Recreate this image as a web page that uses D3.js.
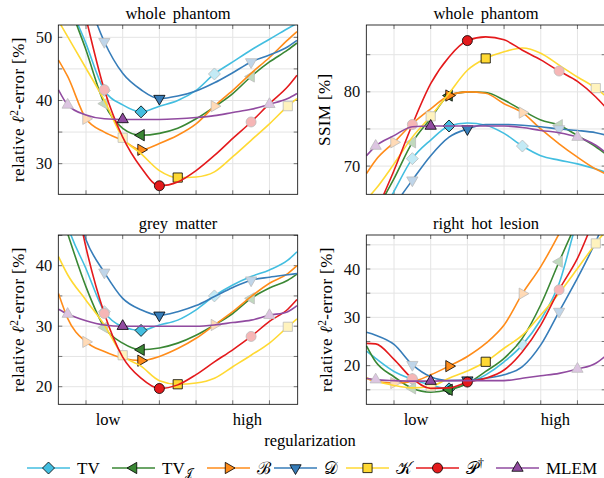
<!DOCTYPE html>
<html><head><meta charset="utf-8">
<script src="https://cdn.jsdelivr.net/npm/d3@7"></script>
<style>
body{margin:0;background:#fff}
svg{display:block}
svg text{font-family:"Liberation Serif","Times New Roman",serif}
</style></head><body>
<svg id="chart" width="604" height="478"></svg>
<script>
// sample positions along the regularization axis (half steps)
const uVals = [0.25, 0.5, 1, 1.5, 2, 2.5, 3, 3.5, 4, 4.5, 5, 5.5, 6, 6.5, 6.75];
const gridU = [1, 2, 3, 4, 5, 6];
const xLabels = ["low", "high"];
const xLabelU = [1.6, 5.4];

const seriesNames = ["TV", "TVJ", "B", "D", "K", "P", "MLEM"];
const seriesColors = ["#43bee0", "#3a8734", "#ff8c1a", "#377db9", "#ffd933", "#e41a1c", "#914ba0"];
const seriesShapes = ["diamond", "left", "right", "down", "square", "circle", "up"];
const markerU = [[1.5, 2.5, 4.5], [1.5, 2.5, 5.5], [1, 2.5, 4.5], [1.5, 3, 5.5], [2, 3.5, 6.5], [1.5, 3, 5.5], [0.5, 2, 6]];
const bestU = [2.5, 2.5, 2.5, 3, 3.5, 3, 2];

// whole phantom, relative l2-error
const wholeErr = [
    [62, 56.5, 49, 41.6, 39.3, 38.2, 39.1, 40.0, 41.6, 44.2, 46.1, 48.0, 49.7, 51.4, 52.2],
    [62, 56.3, 48, 39.5, 35.6, 34.5, 34.8, 35.6, 37.1, 39.0, 41.1, 43.8, 46.1, 48.0, 49.1],
    [46.4, 43.8, 37.1, 35.0, 33.7, 32.2, 33.2, 34.5, 36.3, 39.1, 41.6, 44.3, 46.8, 49.6, 50.9],
    [75, 67, 57, 49.3, 44.3, 41.7, 40.3, 40.7, 41.5, 42.8, 44.4, 46.1, 47.2, 48.5, 49.5],
    [52.6, 50.1, 45.1, 40.0, 34.1, 31.6, 28.9, 27.8, 27.9, 28.7, 31.1, 33.7, 36.3, 39.1, 40.3],
    [72, 65, 53, 41.7, 34.2, 29.4, 26.5, 27.1, 28.9, 31.3, 34.0, 36.6, 39.5, 42.2, 44.0],
    [41.7, 39.3, 37.7, 37.1, 37.0, 37.0, 37.0, 37.1, 37.3, 37.6, 38.1, 38.6, 39.4, 40.3, 41.1]
];
// whole phantom, SSIM
const wholeSsim = [
    [58, 62, 66.6, 71.0, 73.5, 75.4, 75.8, 75.5, 74.4, 72.7, 71.4, 70.8, 70.3, 69.6, 69.2],
    [61, 63.7, 68.3, 73.2, 76.4, 79.5, 80.0, 79.9, 78.9, 77.5, 76.2, 75.5, 74.1, 72.6, 71.7],
    [69.0, 70.8, 73.2, 75.7, 77.7, 79.5, 80.0, 79.8, 78.4, 77.2, 75.0, 73.0, 71.2, 69.6, 69.0],
    [59, 60.5, 64.6, 68.1, 71.4, 73.9, 75.0, 75.6, 75.6, 75.5, 75.3, 75.0, 74.8, 74.5, 74.2],
    [65.5, 66.9, 70.3, 73.9, 76.7, 79.8, 82.9, 84.5, 85.4, 85.9, 85.2, 83.6, 82.0, 80.5, 79.5],
    [60, 63.5, 69.4, 75.6, 81.1, 84.7, 86.9, 87.4, 87.0, 85.6, 84.3, 82.8, 81.4, 79.3, 78.0],
    [71.4, 72.7, 74.1, 75.3, 75.4, 75.4, 75.4, 75.4, 75.4, 75.2, 74.8, 74.5, 73.9, 72.8, 71.9]
];
// grey matter, relative l2-error
const greyErr = [
    [52, 46.6, 39.5, 32.4, 29.9, 29.3, 30.2, 31.0, 32.7, 35.0, 36.8, 38.2, 39.3, 40.9, 42.3],
    [50, 45.3, 36.5, 29.8, 27.2, 26.1, 26.4, 27.2, 28.5, 30.2, 32.1, 34.6, 36.3, 37.6, 38.6],
    [35.4, 31.3, 27.4, 25.8, 24.7, 24.3, 25.0, 26.3, 28.0, 30.2, 32.4, 34.9, 37.1, 38.7, 40.0],
    [65, 55, 44.3, 38.9, 34.6, 32.7, 31.8, 32.4, 33.4, 34.9, 36.4, 37.6, 38.1, 38.5, 38.7],
    [41.5, 38.5, 34.3, 30.2, 25.2, 23.4, 21.0, 20.4, 20.6, 21.4, 23.3, 25.2, 27.2, 29.9, 31.2],
    [65, 58, 43, 32.1, 24.9, 21.4, 19.7, 20.3, 22.0, 24.1, 26.1, 28.3, 30.8, 32.8, 34.4],
    [32.8, 32.0, 30.9, 30.2, 30.0, 30.0, 30.0, 30.0, 30.0, 30.2, 30.6, 31.0, 31.8, 32.4, 33.4]
];
// right hot lesion, relative l2-error
const lesionErr = [
    [23.0, 21.5, 18.8, 17.2, 16.0, 15.2, 16.3, 18.1, 20.8, 24.3, 29.5, 37, 50, 58, 62],
    [24.1, 20.8, 17.7, 15.3, 14.5, 15.0, 16.3, 18.8, 21.5, 25.7, 32.6, 41.5, 50, 58, 62],
    [17.4, 16.7, 16.4, 16.7, 18.1, 19.9, 21.9, 24.6, 28.4, 34.9, 40.5, 47.3, 55, 62, 66],
    [26.9, 26.3, 24.4, 20.2, 17.7, 16.9, 17.0, 17.4, 18.1, 19.8, 24.3, 31.2, 38.1, 45.7, 50],
    [17.5, 16.8, 15.9, 15.4, 15.7, 17.4, 18.9, 20.8, 23.6, 26.3, 30.5, 35.0, 40.1, 45.3, 47.7],
    [24.6, 24.5, 21.3, 17.3, 15.3, 15.4, 16.6, 17.4, 19.1, 22.9, 28.4, 35.7, 42.2, 51, 55],
    [17.4, 17.1, 16.9, 16.8, 16.8, 16.9, 16.9, 16.9, 16.9, 17.4, 17.9, 18.4, 19.3, 20.5, 21.9]
];

const panels = [
    {title: "whole phantom", ylab: "err", data: wholeErr, x0: 58.3, y0: 25, yDom: [25.15, 51.95], ticks: [30, 40, 50], lx: 24},
    {title: "whole phantom", ylab: "ssim", data: wholeSsim, x0: 366.3, y0: 25, yDom: [66.2, 89.0], ticks: [70, 80], lx: 330},
    {title: "grey matter", ylab: "err", data: greyErr, x0: 58.3, y0: 235, yDom: [17.09, 45.07], ticks: [20, 30, 40], lx: 24, low: true},
    {title: "right hot lesion", ylab: "err", data: lesionErr, x0: 366.3, y0: 235, yDom: [12.0, 47.04], ticks: [20, 30, 40], lx: 332, low: true}
];
const pw = 239.4, ph = 169.3;

const svg = d3.select("#chart");

function shapePath(shape) {
    const r = 6.5, c = r * 0.866, h = r * 0.5;
    switch (shape) {
        case "diamond": return "M0,-6L6,0L0,6L-6,0Z";
        case "up": return `M0,${-r}L${c},${h}L${-c},${h}Z`;
        case "down": return `M0,${r}L${c},${-h}L${-c},${-h}Z`;
        case "left": return `M${-r},0L${h},${-c}L${h},${c}Z`;
        case "right": return `M${r},0L${-h},${-c}L${-h},${c}Z`;
        case "square": return "M-4.6,-4.6H4.6V4.6H-4.6Z";
        default: return "M5,0A5,5 0 1 1 -5,0A5,5 0 1 1 5,0Z";
    }
}

function drawMarker(g, i, x, y, faded) {
    const col = seriesColors[i];
    g.append("path")
        .attr("d", shapePath(seriesShapes[i]))
        .attr("transform", `translate(${x},${y})`)
        .attr("fill", faded ? d3.interpolateRgb(col, "#fff")(0.68) : col)
        .attr("stroke", faded ? "#bdbdbd" : "#000")
        .attr("stroke-width", 0.8);
}

panels.forEach((p, pi) => {
    const g = svg.append("g").attr("transform", `translate(${p.x0},${p.y0})`);
    const x = d3.scaleLinear().domain([0.245, 6.77]).range([0, pw]);
    const y = d3.scaleLinear().domain(p.yDom).range([ph, 0]);

    // grid
    const yGrid = d3.range(Math.ceil(p.yDom[0] / 5) * 5, p.yDom[1], 5);
    g.selectAll(".vg").data(gridU).join("line")
        .attr("x1", d => x(d)).attr("x2", d => x(d)).attr("y1", 0).attr("y2", ph)
        .attr("stroke", "#e4e4e4").attr("stroke-width", 1);
    g.selectAll(".hg").data(yGrid).join("line")
        .attr("class", "hg")
        .attr("x1", 0).attr("x2", pw).attr("y1", d => y(d)).attr("y2", d => y(d))
        .attr("stroke", "#e4e4e4").attr("stroke-width", 1);

    // ticks inside on all four sides
    const tk = g.append("g").attr("stroke", "#555").attr("stroke-width", 0.8);
    yGrid.forEach(v => {
        tk.append("line").attr("x1", 0).attr("x2", 4).attr("y1", y(v)).attr("y2", y(v));
        tk.append("line").attr("x1", pw - 4).attr("x2", pw).attr("y1", y(v)).attr("y2", y(v));
    });
    gridU.forEach(u => {
        tk.append("line").attr("x1", x(u)).attr("x2", x(u)).attr("y1", ph).attr("y2", ph - 4);
        tk.append("line").attr("x1", x(u)).attr("x2", x(u)).attr("y1", 0).attr("y2", 4);
    });

    // tick labels
    g.selectAll(".tl").data(p.ticks).join("text")
        .attr("x", -6).attr("y", d => y(d)).attr("dy", "0.34em")
        .attr("text-anchor", "end").attr("font-size", 16.5).attr("fill", "#111")
        .text(d => d);

    // curves
    const clipId = "clip" + pi;
    g.append("clipPath").attr("id", clipId).append("rect").attr("width", pw).attr("height", ph);
    const line = d3.line().x((d, k) => x(uVals[k])).y(d => y(d)).curve(d3.curveMonotoneX);

    p.data.forEach((vals, i) => {
        g.append("path").attr("d", line(vals))
            .attr("clip-path", `url(#${clipId})`)
            .attr("fill", "none").attr("stroke", seriesColors[i]).attr("stroke-width", 1.6);
        markerU[i].forEach(u => {
            const k = uVals.indexOf(u);
            drawMarker(g, i, x(u), y(vals[k]), u !== bestU[i]);
        });
    });

    // frame
    g.append("rect").attr("width", pw).attr("height", ph)
        .attr("fill", "none").attr("stroke", "#000").attr("stroke-width", 0.8);

    // title
    g.append("text").attr("x", pw / 2).attr("y", -6).attr("text-anchor", "middle")
        .attr("font-size", 16.5).attr("word-spacing", 3).text(p.title);

    // y label
    const yl = svg.append("text")
        .attr("transform", `translate(${p.lx},${p.y0 + ph / 2}) rotate(-90)`)
        .attr("text-anchor", "middle").attr("font-size", 17).attr("letter-spacing", 0.4);
    if (p.ylab === "ssim") {
        yl.text("SSIM [%]");
    } else {
        yl.append("tspan").text("relative ");
        yl.append("tspan").attr("font-style", "italic").text("\u2113");
        yl.append("tspan").attr("font-size", 11.5).attr("dy", -6.5).text("2");
        yl.append("tspan").attr("dy", 6.5).text("-error [%]");
    }

    // low / high labels
    if (p.low) {
        g.selectAll(".xl").data(xLabels).join("text")
            .attr("x", (d, k) => x(xLabelU[k])).attr("y", ph + 21)
            .attr("text-anchor", "middle").attr("font-size", 16.5)
            .text(d => d);
    }
});

svg.append("text").attr("x", 310).attr("y", 446).attr("text-anchor", "middle")
    .attr("font-size", 16.5).text("regularization");

// legend
const legX = [27, 112, 207, 274, 346, 416, 496];
const legY = 468;
seriesNames.forEach((name, i) => {
    const lg = svg.append("g").attr("transform", `translate(${legX[i]},${legY})`);
    lg.append("line").attr("x1", 0).attr("x2", 43).attr("stroke", seriesColors[i]).attr("stroke-width", 1.6);
    drawMarker(lg, i, 21.5, 0, false);
    const t = lg.append("text").attr("x", 50).attr("y", 6).attr("font-size", 17);
    if (name === "TV") t.text("TV");
    else if (name === "TVJ") {
        t.append("tspan").text("TV");
        t.append("tspan").attr("font-size", 11).attr("dy", 2.5).text("\u{1D4A5}");
    }
    else if (name === "B") t.text("\u212C");
    else if (name === "D") t.text("\u{1D49F}");
    else if (name === "K") t.text("\u{1D4A6}");
    else if (name === "P") {
        t.append("tspan").text("\u{1D4AB}");
        t.append("tspan").attr("font-size", 12).attr("dy", -7).text("\u2020");
    }
    else t.text("MLEM");
});
</script>
</body></html>
